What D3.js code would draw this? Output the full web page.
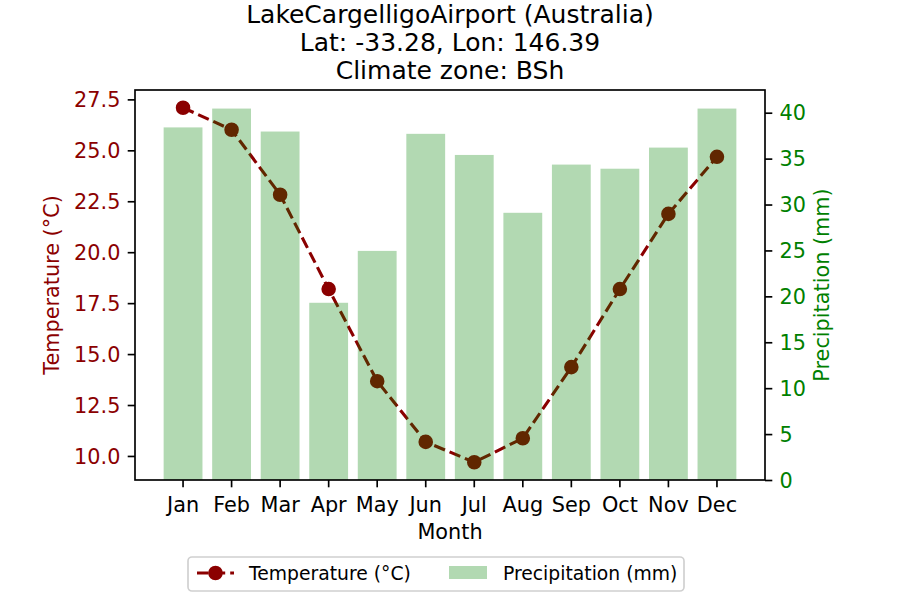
<!DOCTYPE html>
<html>
<head>
<meta charset="utf-8">
<script src="https://cdn.jsdelivr.net/npm/d3@7"></script>
<style>
  html, body { margin: 0; padding: 0; background: #ffffff; }
  svg { display: block; font-family: "DejaVu Sans", sans-serif; }
</style>
</head>
<body>
<svg id="chart" width="900" height="600"></svg>
<script>
// ---- data ----
const months = ["Jan","Feb","Mar","Apr","May","Jun","Jul","Aug","Sep","Oct","Nov","Dec"];
const temperature = [27.09, 26.01, 22.82, 18.19, 13.67, 10.69, 9.69, 10.87, 14.36, 18.19, 21.88, 24.68];
const precipitation = [38.4, 40.45, 37.95, 19.3, 24.95, 37.7, 35.4, 29.1, 34.35, 33.9, 36.2, 40.45];
const tempTicks = [10, 12.5, 15, 17.5, 20, 22.5, 25, 27.5];
const precTicks = [0, 5, 10, 15, 20, 25, 30, 35, 40];
const titleLines = ["LakeCargelligoAirport (Australia)", "Lat: -33.28, Lon: 146.39", "Climate zone: BSh"];
const xLabel = "Month";
const tempLabel = "Temperature (°C)";
const precLabel = "Precipitation (mm)";

// ---- layout ----
const L = 135, R = 765, T = 90, B = 480;
const tickLen = 7.3, tickPad = 7.3;
const tickFont = 20.8, titleFont = 25, legendFont = 18.75;
const tempColor = "#8b0000", precColor = "#008000";

const svg = d3.select("#chart");

const x = d3.scaleBand().domain(months).range([L, R]).paddingInner(0.2).paddingOuter(0.59);
const tmin = d3.min(temperature), tmax = d3.max(temperature), tr = tmax - tmin;
const yT = d3.scaleLinear().domain([tmin - 0.05 * tr, tmax + 0.05 * tr]).range([B, T]);
const yP = d3.scaleLinear().domain([0, d3.max(precipitation) * 1.05]).range([B, T]);
const cx = m => x(m) + x.bandwidth() / 2;

// ---- temperature line (drawn first, bars overlay it) ----
const line = d3.line().x((d, i) => cx(months[i])).y(d => yT(d));
svg.append("path")
  .datum(temperature)
  .attr("d", line)
  .attr("fill", "none")
  .attr("stroke", tempColor)
  .attr("stroke-width", 3.1)
  .attr("stroke-dasharray", "11.6,5");
svg.append("g").selectAll("circle")
  .data(temperature)
  .join("circle")
  .attr("cx", (d, i) => cx(months[i]))
  .attr("cy", d => yT(d))
  .attr("r", 6.25)
  .attr("fill", tempColor)
  .attr("stroke", tempColor)
  .attr("stroke-width", 2.08);

// ---- precipitation bars ----
svg.append("g").selectAll("rect")
  .data(precipitation)
  .join("rect")
  .attr("x", (d, i) => x(months[i]))
  .attr("width", x.bandwidth())
  .attr("y", d => yP(d))
  .attr("height", d => yP(0) - yP(d))
  .attr("fill", precColor)
  .attr("fill-opacity", 0.3);

// ---- axes ----
function styleAxis(g, color) {
  g.select(".domain").remove();
  g.selectAll(".tick line").attr("stroke", "#000").attr("stroke-width", 1.67);
  g.selectAll(".tick text").attr("fill", color).style("font-size", tickFont + "px")
    .style("font-family", "DejaVu Sans, sans-serif");
}

const gl = svg.append("g").attr("transform", `translate(${L},0)`)
  .call(d3.axisLeft(yT).tickValues(tempTicks).tickFormat(d3.format(".1f")).tickSize(tickLen).tickPadding(tickPad));
styleAxis(gl, tempColor);
gl.selectAll(".tick text").attr("dy", "0.35em");

const gr = svg.append("g").attr("transform", `translate(${R},0)`)
  .call(d3.axisRight(yP).tickValues(precTicks).tickFormat(d3.format("d")).tickSize(tickLen).tickPadding(tickPad));
styleAxis(gr, precColor);
gr.selectAll(".tick text").attr("dy", "0.35em");

const gb = svg.append("g").attr("transform", `translate(0,${B})`)
  .call(d3.axisBottom(x).tickSize(tickLen).tickPadding(tickPad));
styleAxis(gb, "#000");
gb.selectAll(".tick text").attr("dy", "0.85em");

// frame
svg.append("rect").attr("x", L).attr("y", T).attr("width", R - L).attr("height", B - T)
  .attr("fill", "none").attr("stroke", "#000").attr("stroke-width", 1.67);

// ---- labels ----
svg.append("text").attr("x", (L + R) / 2).attr("y", 539).attr("text-anchor", "middle")
  .style("font-size", tickFont + "px").attr("fill", "#000").text(xLabel);
svg.append("text").attr("transform", `translate(59,${(T + B) / 2}) rotate(-90)`)
  .attr("text-anchor", "middle").style("font-size", tickFont + "px").attr("fill", tempColor).text(tempLabel);
svg.append("text").attr("transform", `translate(828.5,${(T + B) / 2}) rotate(-90)`)
  .attr("text-anchor", "middle").style("font-size", tickFont + "px").attr("fill", precColor).text(precLabel);

svg.append("g").selectAll("text").data(titleLines).join("text")
  .attr("x", (L + R) / 2).attr("y", (d, i) => 23 + i * 28)
  .attr("text-anchor", "middle").style("font-size", titleFont + "px").attr("fill", "#000")
  .text(d => d);

// ---- legend ----
const lg = svg.append("g");
lg.append("rect").attr("x", 188).attr("y", 557).attr("width", 496).attr("height", 34)
  .attr("rx", 4).attr("fill", "#fff").attr("fill-opacity", 0.8)
  .attr("stroke", "#d0d0d0").attr("stroke-width", 1.67);
lg.append("line").attr("x1", 197).attr("x2", 234).attr("y1", 573).attr("y2", 573)
  .attr("stroke", tempColor).attr("stroke-width", 3.1).attr("stroke-dasharray", "11.6,5");
lg.append("circle").attr("cx", 215.5).attr("cy", 573).attr("r", 6.25)
  .attr("fill", tempColor).attr("stroke", tempColor).attr("stroke-width", 2.08);
lg.append("text").attr("x", 249).attr("y", 579.5).style("font-size", legendFont + "px")
  .attr("fill", "#000").text(tempLabel);
lg.append("rect").attr("x", 449).attr("y", 566).attr("width", 38).attr("height", 13)
  .attr("fill", precColor).attr("fill-opacity", 0.3);
lg.append("text").attr("x", 503).attr("y", 579.5).style("font-size", legendFont + "px")
  .attr("fill", "#000").text(precLabel);
</script>
</body>
</html>
